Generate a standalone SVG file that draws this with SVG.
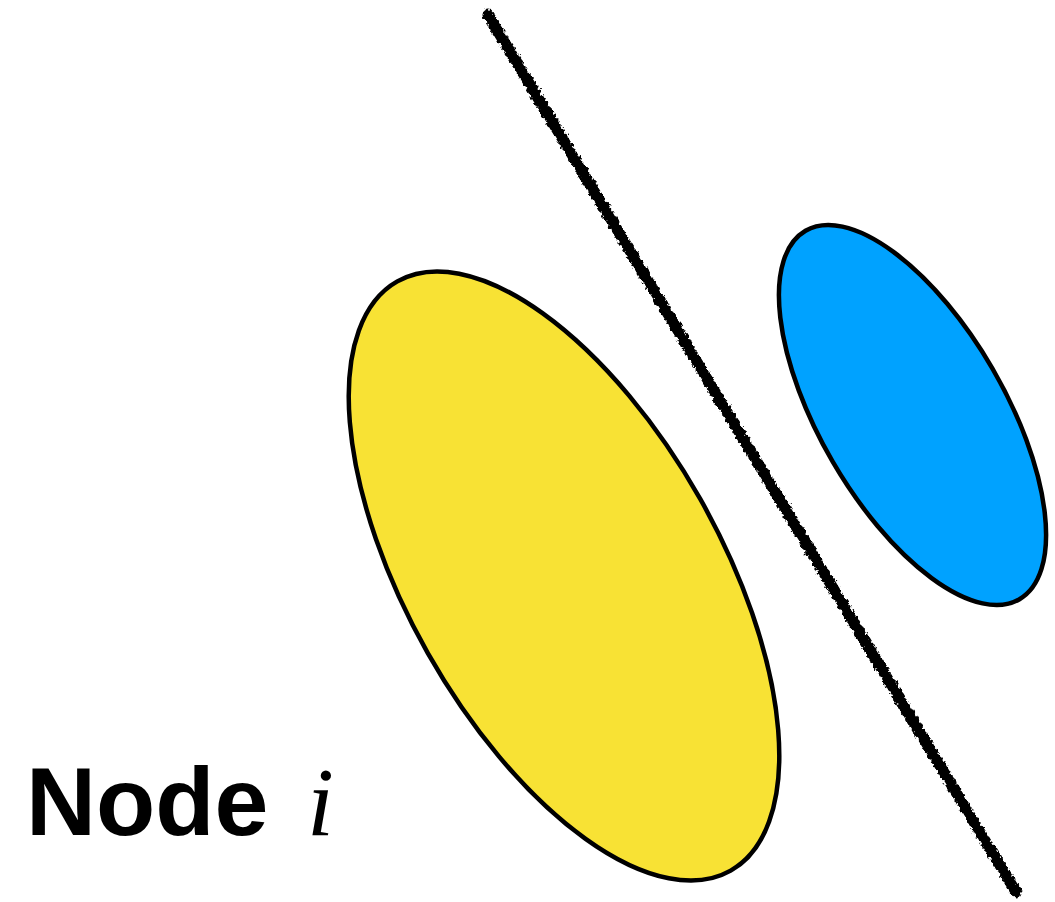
<svg xmlns="http://www.w3.org/2000/svg" width="1055" height="902" viewBox="0 0 1055 902">
<style>
.node{stroke:#000;stroke-width:4.5}
.lbl{font-family:"Liberation Sans",Arial,sans-serif;font-weight:bold;font-size:97px;fill:#000}
.var{font-family:"Liberation Serif","Times New Roman",serif;font-style:italic;font-weight:normal}
</style>
<defs>
<filter id="rough" x="-10%" y="-10%" width="120%" height="120%">
<feTurbulence type="fractalNoise" baseFrequency="0.3" numOctaves="2" seed="3" result="n"/>
<feDisplacementMap in="SourceGraphic" in2="n" scale="6" xChannelSelector="R" yChannelSelector="G"/>
</filter>
</defs>
<rect width="1055" height="902" fill="#fff"/>
<g id="connectors">
<line x1="488" y1="15" x2="1016" y2="892" stroke="#000" stroke-width="11" stroke-linecap="round" filter="url(#rough)"/>
</g>
<g id="yellow-node">
<ellipse class="node" cx="564" cy="576" rx="338.5" ry="156.5" fill="#F8E234" transform="rotate(60.5 564 576)"/>
</g>
<g id="blue-node">
<ellipse class="node" cx="912.5" cy="415" rx="213" ry="92.5" fill="#00A2FF" transform="rotate(59.85 912.5 415)"/>
</g>
<g id="label">
<text class="lbl" x="26" y="835">Node <tspan class="var" x="307">i</tspan></text>
</g>
</svg>
